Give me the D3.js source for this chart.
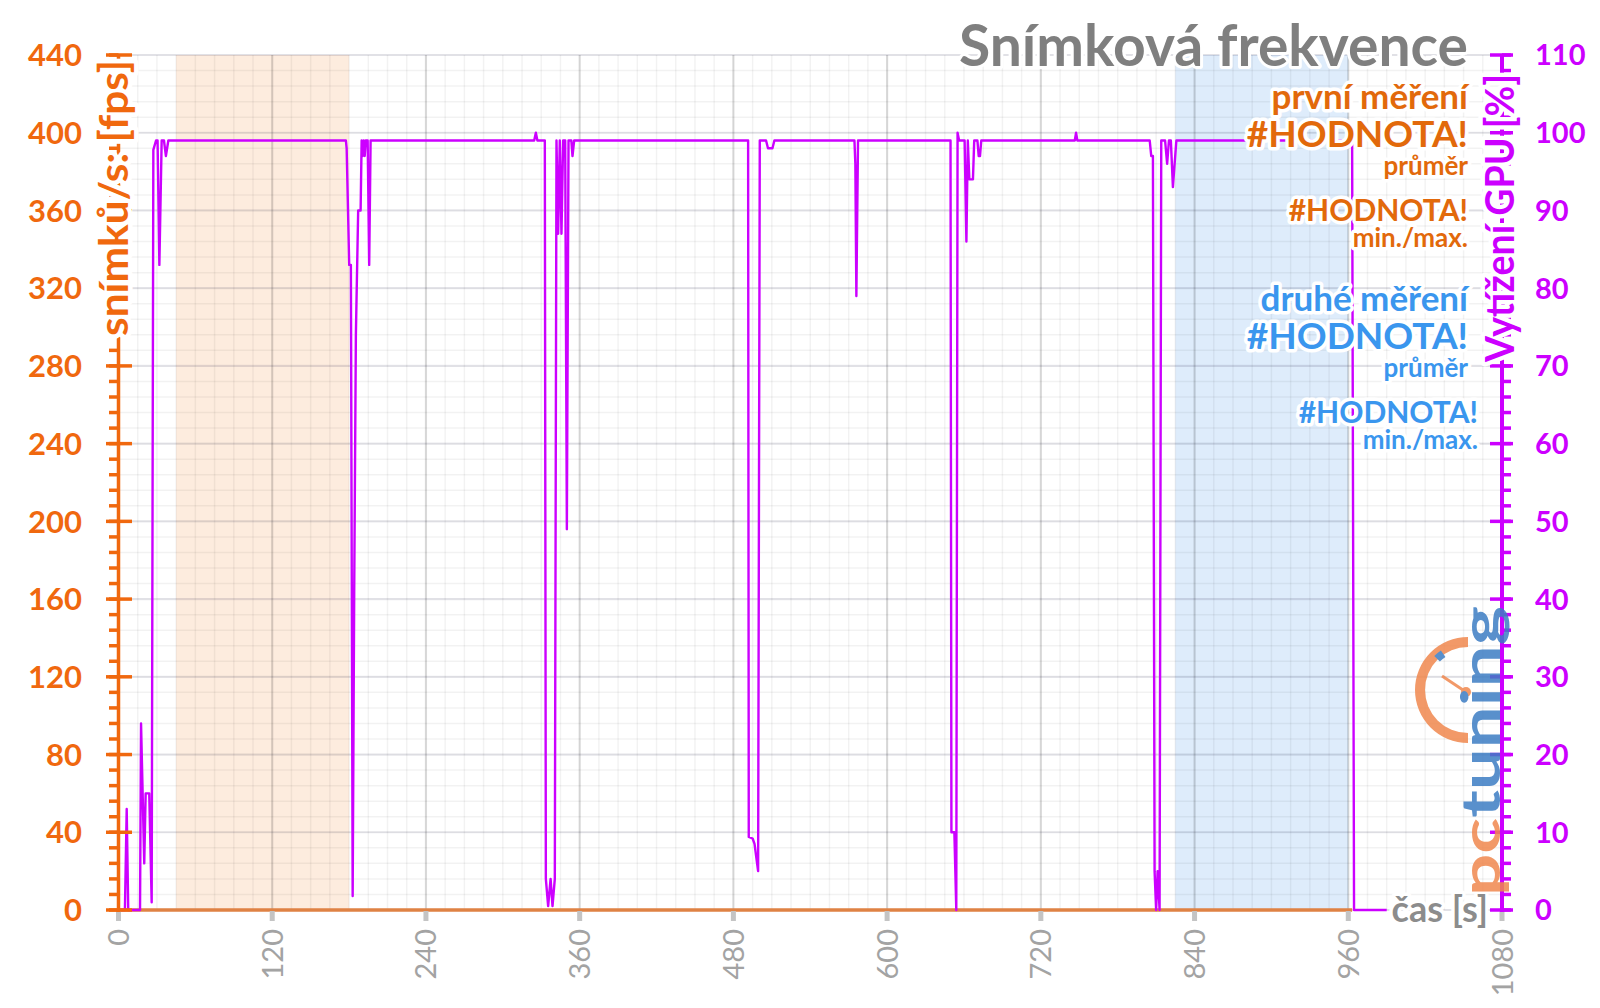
<!DOCTYPE html>
<html>
<head>
<meta charset="utf-8">
<script src="https://cdn.jsdelivr.net/npm/d3@7/dist/d3.min.js"></script>
<style>
html, body { margin: 0; padding: 0; background: #fff; }
svg { display: block; font-family: Lato, "Open Sans", sans-serif; }
</style>
</head>
<body>
<svg id="chart" width="1600" height="1008"></svg>
<script>
/*global d3*/

// axis ticks
var timeTicks = [0, 120, 240, 360, 480, 600, 720, 840, 960, 1080];
var fpsTicks = [0, 40, 80, 120, 160, 200, 240, 280, 320, 360, 400, 440];
var gpuTicks = [0, 10, 20, 30, 40, 50, 60, 70, 80, 90, 100, 110];

// first measurement fps (only errors in the sheet -> flat zero)
var fpsTime = [0, 963];
var fpsValues = [0, 0];

// GPU load [%] over time [s]
var gpuTime = [0, 5, 6.4, 7.6, 16.8, 17.6, 20.1, 21.2, 24, 25.9, 27.2, 29.3, 30.5, 31.9, 33.7, 35.5, 37, 38.9,
	177.5, 178.1, 180.1, 181.4, 182.8, 184, 185.3, 187.1, 189, 189.8, 190.6, 191.4, 192.2, 193, 194.5, 195.7, 196.8,
	324.5, 325.8, 327, 332.8, 333.6, 335.4, 337.3, 338.8, 340.6, 341.9, 343.2, 344.5, 345.8, 347.1, 348.7, 350, 351.3, 353.5, 354.4, 355.7,
	491.5, 492, 495, 496.5, 499.3, 500.6, 505.5, 507, 510.5, 512,
	574.5, 575.2, 576, 577.3,
	649.5, 650.2, 652.5, 654, 655, 656.2, 660.5, 661.9, 663, 664.2, 667, 668, 670.5, 671.5, 672.5, 673.5,
	746.5, 747.5, 748.5,
	805, 806.2, 807.5, 808.8, 810, 811.2, 812.7, 814, 817, 818.6, 820, 821.5, 823.1, 825.8,
	963, 964.5, 990];
var gpuLoad = [0, 0, 13, 0, 0, 24, 6, 15, 15, 1, 97.8, 99, 99, 83, 99, 99, 97, 99,
	99, 98, 83, 83, 1.8, 41, 74, 90, 90, 99, 97, 99, 97, 99, 99, 83, 99,
	99, 100, 99, 99, 4, 0.5, 4, 0.5, 4, 99, 87, 99, 87, 99, 99, 49, 99, 99, 97, 99,
	99, 9.4, 9.2, 8.5, 5, 99, 99, 98, 98, 99,
	99, 96, 79, 99,
	99, 10, 10, 0, 100, 99, 99, 86, 99, 94, 94, 99, 99, 97, 97, 99,
	99, 100, 99,
	99, 97, 97, 5, 0, 5, 0, 99, 99, 96, 99, 99, 93, 99,
	99, 0, 0];

// highlighted intervals [s]
var firstBand = [45, 180];
var secondBand = [825, 960];

var legendFirst = ['první měření', '#HODNOTA!', 'průměr', '#HODNOTA!', 'min./max.'];
var legendSecond = ['druhé měření', '#HODNOTA!', 'průměr', '#HODNOTA!', 'min./max.'];

var ORANGE = '#f0680e', ORANGE_TXT = '#e2690b', BLUE = '#3a96ee', MAGENTA = '#cc00ff', GREY = '#8c8c8c';

var svg = d3.select('#chart');

var x = d3.scaleLinear().domain([0, 1080]).range([118.5, 1502]);
var yFps = d3.scaleLinear().domain([0, 440]).range([910, 55]);
var yGpu = d3.scaleLinear().domain([0, 110]).range([910, 55]);

function halo(sel, w) {
	return sel.attr('stroke', '#fff').attr('stroke-width', w || 6)
		.attr('stroke-linejoin', 'round').attr('paint-order', 'stroke');
}

// bands
svg.append('g').selectAll('rect')
	.data([[firstBand, '#fdecde'], [secondBand, '#deecfb']])
	.enter().append('rect')
	.attr('x', function (d) { return x(d[0][0]); })
	.attr('width', function (d) { return x(d[0][1]) - x(d[0][0]); })
	.attr('y', yFps(440))
	.attr('height', yFps(0) - yFps(440))
	.attr('fill', function (d) { return d[1]; });

// grid
var grid = svg.append('g');
grid.selectAll('line.vmin').data(d3.range(0, 1081, 15)).enter().append('line')
	.attr('x1', x).attr('x2', x).attr('y1', yFps(440)).attr('y2', yFps(0))
	.attr('stroke', 'rgba(0,0,0,0.05)').attr('stroke-width', 1.5);
grid.selectAll('line.hmin').data(d3.range(0, 441, 8)).enter().append('line')
	.attr('y1', yFps).attr('y2', yFps).attr('x1', x(0)).attr('x2', x(1080))
	.attr('stroke', 'rgba(0,0,0,0.05)').attr('stroke-width', 1.5);
grid.selectAll('line.vmaj').data(timeTicks).enter().append('line')
	.attr('x1', x).attr('x2', x).attr('y1', yFps(440)).attr('y2', yFps(0))
	.attr('stroke', 'rgba(0,0,0,0.12)').attr('stroke-width', 2.2);
grid.selectAll('line.hmaj').data(fpsTicks).enter().append('line')
	.attr('y1', yFps).attr('y2', yFps).attr('x1', x(0)).attr('x2', x(1080))
	.attr('stroke', 'rgba(40,40,90,0.1)').attr('stroke-width', 2.2);

// series
var fpsLine = d3.line().x(function (d, i) { return x(fpsTime[i]); }).y(function (d) { return yFps(d); });
svg.append('path').datum(fpsValues).attr('d', fpsLine)
	.attr('fill', 'none').attr('stroke', '#df8244').attr('stroke-width', 3.5);

var gpuLine = d3.line().x(function (d, i) { return x(gpuTime[i]); }).y(function (d) { return yGpu(d); });
svg.append('path').datum(gpuLoad).attr('d', gpuLine)
	.attr('fill', 'none').attr('stroke', MAGENTA).attr('stroke-width', 2.4)
	.attr('stroke-linejoin', 'round');

// x axis ticks and labels
var xAxis = svg.append('g');
xAxis.selectAll('rect').data(timeTicks).enter().append('rect')
	.attr('x', function (d) { return x(d) - 2.5; }).attr('y', 911)
	.attr('width', 5).attr('height', 10).attr('fill', '#c4c4c4');
xAxis.selectAll('text').data(timeTicks).enter().append('text')
	.attr('transform', function (d) { return 'translate(' + (x(d) + 10.5) + ',929) rotate(-90)'; })
	.attr('text-anchor', 'end').attr('font-size', 29).attr('fill', '#a3a3a3')
	.text(function (d) { return d; });

// left axis
var left = svg.append('g');
left.selectAll('line.min').data(d3.range(0, 441, 8)).enter().append('line')
	.attr('x1', 109).attr('x2', x(0)).attr('y1', yFps).attr('y2', yFps)
	.attr('stroke', ORANGE).attr('stroke-width', 3.5);
left.selectAll('line.maj').data(fpsTicks).enter().append('line')
	.attr('x1', 106).attr('x2', 132).attr('y1', yFps).attr('y2', yFps)
	.attr('stroke', ORANGE).attr('stroke-width', 3.5);
left.append('line').attr('x1', x(0)).attr('x2', x(0)).attr('y1', yFps(0) + 2).attr('y2', yFps(440))
	.attr('stroke', ORANGE).attr('stroke-width', 3.5);
left.selectAll('text').data(fpsTicks).enter().append('text')
	.attr('x', 82).attr('y', yFps).attr('dy', '0.36em')
	.attr('text-anchor', 'end').attr('font-size', 31).attr('font-weight', 700)
	.attr('fill', ORANGE).text(function (d) { return d; });
halo(left.append('text')
	.attr('transform', 'translate(128,336) rotate(-90)')
	.attr('font-size', 40).attr('font-weight', 700).attr('fill', ORANGE)
	.attr('textLength', 276).attr('lengthAdjust', 'spacingAndGlyphs'), 9)
	.text('snímků/s: [fps]');

// right axis
var right = svg.append('g');
right.selectAll('line.min').data(d3.range(0, 111, 2)).enter().append('line')
	.attr('x1', x(1080)).attr('x2', 1511).attr('y1', yGpu).attr('y2', yGpu)
	.attr('stroke', MAGENTA).attr('stroke-width', 3.5);
right.selectAll('line.maj').data(gpuTicks).enter().append('line')
	.attr('x1', 1490).attr('x2', 1513).attr('y1', yGpu).attr('y2', yGpu)
	.attr('stroke', MAGENTA).attr('stroke-width', 3.5);
right.append('line').attr('x1', x(1080)).attr('x2', x(1080)).attr('y1', yGpu(0) + 2).attr('y2', yGpu(110))
	.attr('stroke', MAGENTA).attr('stroke-width', 4);
right.selectAll('text').data(gpuTicks).enter().append('text')
	.attr('x', 1535).attr('y', yGpu).attr('dy', '0.36em')
	.attr('font-size', 29).attr('font-weight', 700)
	.attr('fill', MAGENTA).text(function (d) { return d; });
halo(right.append('text')
	.attr('transform', 'translate(1514,362) rotate(-90)')
	.attr('font-size', 40).attr('font-weight', 700).attr('fill', MAGENTA)
	.attr('textLength', 288).attr('lengthAdjust', 'spacingAndGlyphs'), 9)
	.text('Vytížení GPU [%]');

// x axis title
halo(svg.append('text').attr('x', 1488).attr('y', 922)
	.attr('text-anchor', 'end').attr('font-size', 36).attr('font-weight', 700)
	.attr('fill', GREY), 7)
	.text('čas [s]');

// logo (watermark)
var logo = svg.append('g').attr('opacity', 0.85);
logo.append('path')
	.attr('transform', 'translate(1468,690)')
	.attr('d', d3.arc()({innerRadius: 43, outerRadius: 53, startAngle: Math.PI, endAngle: 2 * Math.PI}))
	.attr('fill', '#f0884e');
logo.append('path')
	.attr('transform', 'translate(1468,690)')
	.attr('d', d3.arc()({innerRadius: 40, outerRadius: 48, startAngle: 2 * Math.PI - 0.78, endAngle: 2 * Math.PI - 0.6}))
	.attr('fill', '#3d7dc4');
logo.append('line').attr('x1', 1442).attr('y1', 676).attr('x2', 1466).attr('y2', 692)
	.attr('stroke', '#f0884e').attr('stroke-width', 3);
logo.append('circle').attr('cx', 1466).attr('cy', 692).attr('r', 5).attr('fill', '#f0884e');
var logoText = logo.append('text')
	.attr('transform', 'translate(1500,896) rotate(-90)')
	.attr('font-size', 54).attr('font-weight', 700)
	.attr('textLength', 290).attr('lengthAdjust', 'spacingAndGlyphs');
logoText.append('tspan').attr('fill', '#f0884e').text('pc');
logoText.append('tspan').attr('fill', '#3d7dc4').text('tuning');

// title
halo(svg.append('text').attr('x', 1468).attr('y', 66)
	.attr('text-anchor', 'end').attr('font-size', 57).attr('font-weight', 700)
	.attr('fill', '#7f7f7f'), 6)
	.text('Snímková frekvence');

// legend blocks
var legendRows = [
	{size: 35, y: 109, right: 1468},
	{size: 37, y: 147, right: 1468},
	{size: 26, y: 175, right: 1468},
	{size: 30, y: 221, right: 1468},
	{size: 26, y: 247, right: 1468}
];
function drawLegend(labels, color, dy, rightShift) {
	var g = svg.append('g');
	halo(g.selectAll('text').data(labels).enter().append('text')
		.attr('x', function (d, i) { return legendRows[i].right + (i > 2 ? rightShift : 0); })
		.attr('y', function (d, i) { return legendRows[i].y + dy; })
		.attr('text-anchor', 'end')
		.attr('font-size', function (d, i) { return legendRows[i].size; })
		.attr('font-weight', 700)
		.attr('fill', color), 7)
		.text(function (d) { return d; });
}
drawLegend(legendFirst, ORANGE_TXT, 0, 0);
drawLegend(legendSecond, BLUE, 202, 10);
</script>
</body>
</html>
